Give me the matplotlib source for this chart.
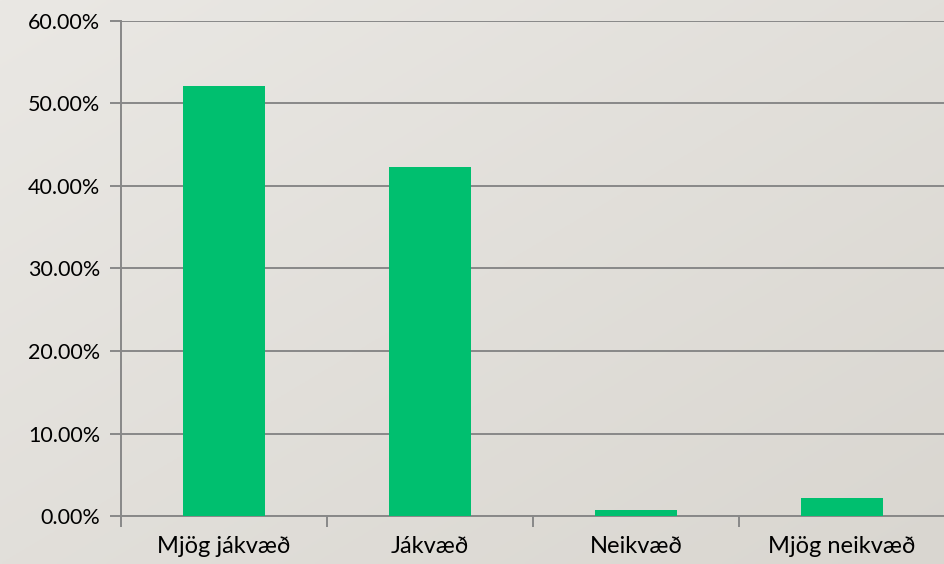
import numpy as np
import matplotlib
matplotlib.use("Agg")
import matplotlib.pyplot as plt
from matplotlib.ticker import FuncFormatter, FixedLocator

plt.rcParams['font.family'] = ['Lato', 'DejaVu Sans']

categories = ["Mjög jákvæð", "Jákvæð", "Neikvæð", "Mjög neikvæð"]
values = [0.521, 0.4225, 0.0073, 0.0215]
y_ticks = [0.0, 0.1, 0.2, 0.3, 0.4, 0.5, 0.6]

fig = plt.figure(figsize=(9.45, 5.64), dpi=100)

# soft gradient background
bg = fig.add_axes([0, 0, 1, 1], zorder=-10)
yy, xx = np.mgrid[0:1:200j, 0:1:300j]
t = (xx * 0.5 + yy * 0.5)
c0 = np.array([0xea, 0xe8, 0xe4]) / 255
c1 = np.array([0xd9, 0xd6, 0xd0]) / 255
img = c0[None, None, :] * (1 - t[..., None]) + c1[None, None, :] * t[..., None]
bg.imshow(img, aspect='auto', extent=[0, 1, 0, 1], origin='upper')
bg.axis('off')

ax = fig.add_axes([0.128, 0.085, 0.872, 0.878])
ax.patch.set_alpha(0)
x = np.arange(len(categories))
ax.bar(x, values, width=0.4, color='#00bf6f', zorder=3)

ax.set_xlim(-0.5, len(categories) - 0.5)
ax.set_ylim(0, 0.6)
ax.yaxis.set_major_locator(FixedLocator(y_ticks))
ax.yaxis.set_major_formatter(FuncFormatter(lambda v, p: f"{v*100:.2f}%"))
ax.set_xticks(x)
ax.set_xticklabels(categories)
ax.xaxis.set_minor_locator(FixedLocator(np.arange(-0.5, len(categories), 1.0)))

ax.grid(axis='y', color='#888888', linewidth=1.4, zorder=1)
for s in ['top', 'right']:
    ax.spines[s].set_visible(False)
for s in ['left', 'bottom']:
    ax.spines[s].set_color('#888888')
    ax.spines[s].set_linewidth(1.4)

ax.tick_params(axis='x', which='major', length=0, pad=14, labelsize=17, labelcolor='black')
ax.tick_params(axis='x', which='minor', length=8, width=1.4, color='#888888')
ax.tick_params(axis='y', length=8, width=1.4, color='#888888', pad=7, labelsize=15.5)

fig.savefig("out.png", dpi=100)
